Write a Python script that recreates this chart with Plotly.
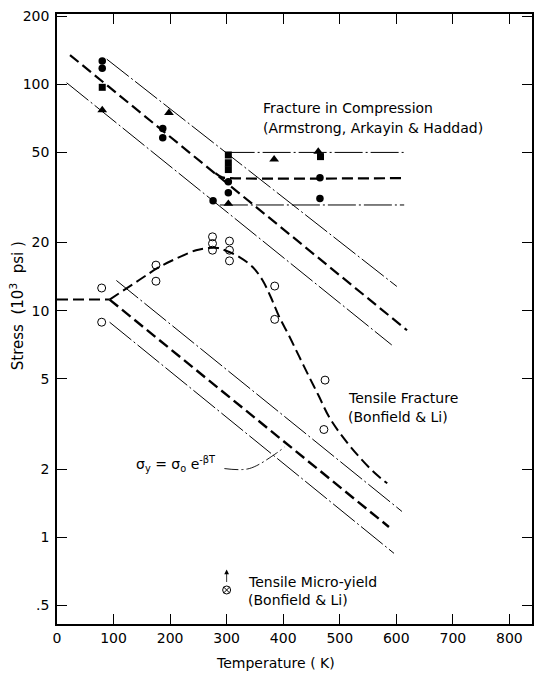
import math
import plotly.graph_objects as go

# ---------------- data ----------------
# Fracture in compression band (Armstrong, Arkayin & Haddad)
comp_upper_x = [88, 601]
comp_upper_y = [129, 12.8]
comp_mid_x = [23, 619]
comp_mid_y = [134.5, 8.2]
comp_low_x = [17, 592]
comp_low_y = [101.5, 7.06]
comp_hi_plateau_x = [300, 617]
comp_hi_plateau_y = [50, 50]
comp_mid_plateau_x = [280, 292, 305, 613]
comp_mid_plateau_y = [40.5, 38.8, 38.5, 38.5]
comp_lo_plateau_x = [288, 614]
comp_lo_plateau_y = [29.3, 29.3]

comp_circle_x = [80, 80, 187, 187, 276, 303, 303, 465, 465]
comp_circle_y = [126.6, 117.5, 63.8, 58.0, 30.6, 37.1, 33.2, 38.6, 31.3]
comp_square_x = [80, 303, 303, 303, 466]
comp_square_y = [96.9, 48.7, 45.0, 42.0, 47.9]
comp_triangle_x = [80, 198, 303, 384, 462]
comp_triangle_y = [76.9, 74.8, 29.7, 46.6, 50.4]

# Tensile fracture (Bonfield & Li)
tens_flat_x = [0, 93]
tens_flat_y = [11.2, 11.2]
tens_curve_x = [93, 146, 181, 211, 246, 266, 285, 299, 322, 346, 363, 378,
                393, 411, 428, 446, 463, 481, 504, 534, 563, 584]
tens_curve_y = [11.2, 13.7, 15.6, 17.0, 18.5, 18.9, 18.9, 18.4, 17.3, 15.6,
                13.7, 11.5, 9.4, 7.7, 6.3, 5.1, 4.2, 3.4, 2.8, 2.27, 1.91, 1.73]
tens_open_x = [79, 79, 175, 175, 275, 275, 275, 305, 305, 305, 385, 385, 474, 472]
tens_open_y = [12.6, 8.9, 15.9, 13.5, 21.2, 19.8, 18.5, 20.3, 18.5, 16.6,
               12.85, 9.16, 4.94, 2.99]

# Yield band  sigma_y = sigma_o exp(-beta T)
yield_upper_x = [105, 610]
yield_upper_y = [13.6, 1.30]
yield_mid_x = [93, 587]
yield_mid_y = [11.2, 1.11]
yield_low_x = [93, 596]
yield_low_y = [8.9, 0.849]
leader_x = [296, 340, 388, 402]
leader_y = [2.01, 2.01, 2.35, 2.5]

# Tensile micro-yield (Bonfield & Li)
micro_x = [300]
micro_y = [0.585]
micro_arrow_y = [0.625, 0.72]

# axes
x_tickvals = [0, 100, 200, 300, 400, 500, 600, 700, 800]
y_tickvals = [0.5, 1, 2, 5, 10, 20, 50, 100, 200]
y_ticktext = [".5", "1", "2", "5", "10", "20", "50", "100", "200"]

# ---------------- figure ----------------
FONT = "DejaVu Sans"
CHAIN = "28px,3px,2px,3px"
DASH = "11px,5px"

fig = go.Figure()


def add_line(x, y, dash, width, shape="linear"):
    fig.add_trace(go.Scatter(x=x, y=y, mode="lines",
                             line=dict(color="black", width=width, dash=dash, shape=shape),
                             hoverinfo="skip", showlegend=False))


# compression band
add_line(comp_upper_x, comp_upper_y, CHAIN, 1)
add_line(comp_mid_x, comp_mid_y, DASH, 2.2)
add_line(comp_low_x, comp_low_y, CHAIN, 1)
add_line(comp_hi_plateau_x, comp_hi_plateau_y, CHAIN, 1)
add_line(comp_mid_plateau_x, comp_mid_plateau_y, DASH, 2.2, "spline")
add_line(comp_lo_plateau_x, comp_lo_plateau_y, CHAIN, 1)

# tensile fracture
add_line(tens_flat_x, tens_flat_y, DASH, 2)
add_line(tens_curve_x, tens_curve_y, DASH, 2, "spline")

# yield band
add_line(yield_upper_x, yield_upper_y, CHAIN, 1)
add_line(yield_mid_x, yield_mid_y, DASH, 2.4)
add_line(yield_low_x, yield_low_y, CHAIN, 1)
add_line(leader_x, leader_y, "14px,3px,2px,3px", 0.9, "spline")


def add_markers(x, y, symbol, size, lw=0):
    fig.add_trace(go.Scatter(x=x, y=y, mode="markers",
                             marker=dict(symbol=symbol, size=size, color="black",
                                         line=dict(color="black", width=lw)),
                             hoverinfo="skip", showlegend=False))


add_markers(comp_circle_x, comp_circle_y, "circle", 7.5)
add_markers(comp_square_x, comp_square_y, "square", 7)
add_markers(comp_triangle_x, comp_triangle_y, "triangle-up", 8.5)
add_markers(tens_open_x, tens_open_y, "circle-open", 8, 1)
add_markers(micro_x, micro_y, "circle-x-open", 8, 1)

annotations = []
# micro-yield arrow
annotations.append(dict(x=micro_x[0], y=math.log10(micro_arrow_y[1]),
                        ax=micro_x[0], ay=math.log10(micro_arrow_y[0]),
                        xref="x", yref="y", axref="x", ayref="y", text="",
                        showarrow=True, arrowhead=2, arrowsize=1.2, arrowwidth=0.8,
                        arrowcolor="black"))


def label(text, xpx, ypx, anchor="left", size=14, angle=0):
    annotations.append(dict(text=text, x=(xpx - 57) / 477, y=(624 - ypx) / 610,
                            xref="paper", yref="paper", showarrow=False,
                            xanchor=anchor, yanchor="middle", textangle=angle,
                            font=dict(family=FONT, size=size, color="black")))


label("Fracture in Compression", 262, 108)
label("(Armstrong, Arkayin &amp; Haddad)", 262, 128)
label("Tensile Fracture", 347, 398)
label("(Bonfield &amp; Li)", 347, 417)
label("Tensile Micro-yield", 247, 582)
label("(Bonfield &amp; Li)", 247, 600)
label("σ<sub>y</sub> = σ<sub>o</sub> e<sup>-βT</sup>", 134, 464, size=14)
label("Stress&nbsp;&nbsp;(10<sup>3</sup>&nbsp;&nbsp;psi&nbsp;)", 17, 306,
      anchor="center", angle=-90, size=15)
label("Temperature ( K)", 276, 663, anchor="center")

axis_common = dict(showline=True, linecolor="black", linewidth=1.5, mirror="ticks",
                   ticks="inside", ticklen=10, tickwidth=1, tickcolor="black",
                   showgrid=False, zeroline=False,
                   tickfont=dict(family=FONT, size=14, color="black"))

fig.update_layout(
    width=537, height=673,
    margin=dict(l=57, r=3, t=14, b=49),
    paper_bgcolor="white", plot_bgcolor="white",
    showlegend=False,
    annotations=annotations,
    xaxis=dict(range=[0, 840], tickvals=x_tickvals, **axis_common),
    yaxis=dict(type="log", range=[-0.383, 2.31], tickvals=y_tickvals,
               ticktext=y_ticktext, ticklabelstandoff=3, **axis_common),
)

fig.write_html("out.html",
               config={"displayModeBar": False},
               post_script="document.body.style.margin='0px';"
                           "document.body.style.overflow='hidden';")
